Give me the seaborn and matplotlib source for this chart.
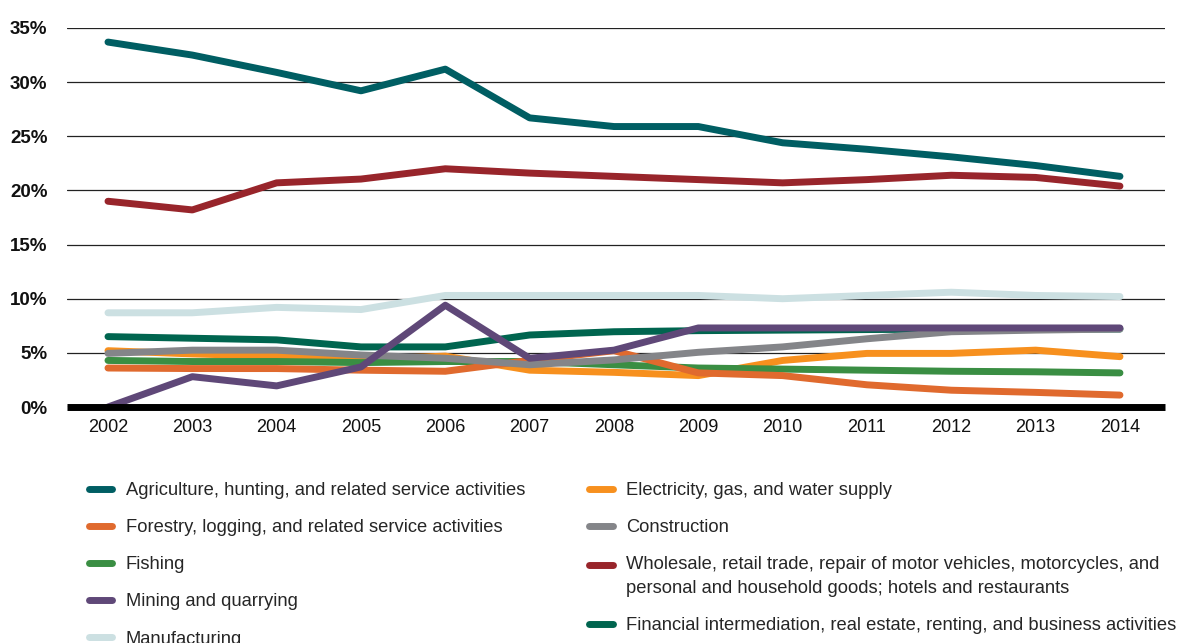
import numpy as np
import pandas as pd
import matplotlib
matplotlib.use("Agg")
import matplotlib.pyplot as plt
import seaborn as sns
from matplotlib.legend_handler import HandlerLine2D
from matplotlib.lines import Line2D
from matplotlib.ticker import FuncFormatter

# Share of total (%) by sector, 2002-2014
years = list(range(2002, 2015))

agriculture = [33.7, 32.5, 30.9, 29.2, 31.2, 26.7, 25.9, 25.9, 24.4, 23.8, 23.1, 22.3, 21.3]
forestry = [3.6, 3.55, 3.55, 3.4, 3.3, 4.3, 5.2, 3.15, 2.9, 2.05, 1.55, 1.35, 1.1]
fishing = [4.3, 4.2, 4.2, 4.1, 4.2, 4.2, 3.9, 3.6, 3.5, 3.4, 3.3, 3.25, 3.15]
mining = [0.0, 2.8, 1.95, 3.7, 9.4, 4.5, 5.25, 7.3, 7.3, 7.3, 7.3, 7.3, 7.3]
manufacturing = [8.7, 8.7, 9.2, 9.0, 10.3, 10.3, 10.3, 10.3, 10.0, 10.3, 10.6, 10.3, 10.2]
electricity = [5.2, 4.9, 4.7, 4.4, 4.7, 3.4, 3.2, 2.9, 4.3, 4.95, 4.95, 5.25, 4.65]
construction = [4.95, 5.25, 5.25, 4.8, 4.5, 3.9, 4.35, 5.05, 5.55, 6.3, 6.95, 7.1, 7.2]
wholesale = [19.0, 18.2, 20.7, 21.05, 22.0, 21.6, 21.3, 21.0, 20.7, 21.0, 21.4, 21.2, 20.4]
financial = [6.5, 6.35, 6.2, 5.55, 5.55, 6.65, 6.95, 7.05, 7.1, 7.15, 7.2, 7.2, 7.2]

sector_names = [
    "Agriculture, hunting, and related service activities",
    "Forestry, logging, and related service activities",
    "Fishing",
    "Mining and quarrying",
    "Manufacturing",
    "Electricity, gas, and water supply",
    "Construction",
    "Wholesale, retail trade, repair of motor vehicles, motorcycles, and\npersonal and household goods; hotels and restaurants",
    "Financial intermediation, real estate, renting, and business activities",
]
sector_values = [agriculture, forestry, fishing, mining, manufacturing,
                 electricity, construction, wholesale, financial]
sector_colors = ["#005E63", "#E06A2E", "#3A8E43", "#5F4878", "#CCE0E2",
                 "#F7901E", "#848589", "#98252B", "#00654F"]

y_ticks = [0, 5, 10, 15, 20, 25, 30, 35]

df = pd.DataFrame({
    "year": np.tile(years, len(sector_names)),
    "share": np.concatenate(sector_values),
    "sector": np.repeat(sector_names, len(years)),
})
palette = dict(zip(sector_names, sector_colors))

# drawing order (later = on top)
draw_order = [sector_names[i] for i in (4, 8, 5, 2, 1, 6, 3, 7, 0)]

sns.set_theme(style="white")
plt.rcParams["font.family"] = ["Liberation Sans", "DejaVu Sans"]

W, H = 1179, 643
fig = plt.figure(figsize=(W / 100, H / 100), dpi=100)
ax = fig.add_axes([67 / W, 1 - 407 / H, (1165 - 67) / W, (407 - 28) / H])

sns.lineplot(data=df, x="year", y="share", hue="sector", hue_order=draw_order,
             palette=palette, lw=5, legend=False, ax=ax,
             solid_capstyle="round", clip_on=False)

ax.set_xlim(2001.514, 2014.534)
ax.set_ylim(0, 35)
ax.set_yticks(y_ticks)
ax.set_xticks(years)
ax.yaxis.set_major_formatter(FuncFormatter(lambda v, _: f"{v:.0f}%"))
ax.set_xlabel("")
ax.set_ylabel("")
for s in ax.spines.values():
    s.set_visible(False)
ax.yaxis.grid(True, color="#222222", lw=0.9)
ax.xaxis.grid(False)
ax.set_axisbelow(True)
ax.axhline(0, color="black", lw=5, zorder=5, clip_on=False, solid_capstyle="butt")

ax.tick_params(axis="y", length=0, pad=14, labelsize=13.5, colors="#111111")
ax.tick_params(axis="x", length=0, pad=9, labelsize=13, colors="#111111")
for lbl in ax.get_yticklabels():
    lbl.set_fontweight("bold")


class FirstLineHandler(HandlerLine2D):
    """Place the swatch beside the first line of a wrapped label."""

    def __init__(self, shift, **kw):
        super().__init__(**kw)
        self.shift = shift

    def create_artists(self, legend, orig_handle, xdescent, ydescent, width,
                       height, fontsize, trans):
        artists = super().create_artists(legend, orig_handle, xdescent, ydescent,
                                         width, height, fontsize, trans)
        for a in artists:
            a.set_ydata(np.asarray(a.get_ydata(), dtype=float) + self.shift)
        return artists


handles = [Line2D([], [], color=c, lw=5, solid_capstyle="round") for c in sector_colors]
legend_kw = dict(loc="upper left", frameon=False, fontsize=13.2, handlelength=1.3,
                 handletextpad=0.74, labelspacing=1.1, borderpad=0, borderaxespad=0)

fig.legend(handles[:5], sector_names[:5], bbox_to_anchor=(88.5 / W, 1 - 482 / H),
           **legend_kw)
leg2 = fig.legend(handles[5:], sector_names[5:], bbox_to_anchor=(589 / W, 1 - 482 / H),
                  handler_map={handles[7]: FirstLineHandler(8.6)}, **legend_kw)
for t in leg2.get_texts():
    t.set_linespacing(1.52)

fig.savefig("out.png", dpi=100)
